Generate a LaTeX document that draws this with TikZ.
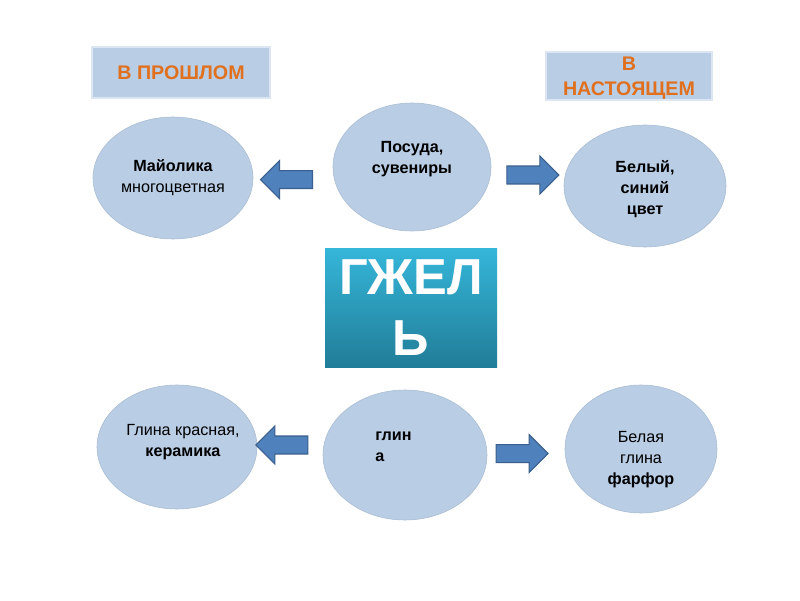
\documentclass[tikz,border=0pt]{standalone}
\usepackage{fontspec}
\setmainfont{Liberation Sans}
\usetikzlibrary{shapes.geometric,shapes.arrows,positioning}
\definecolor{pale}{HTML}{B9CDE5}
\definecolor{paleedge}{HTML}{DCE6F2}
\definecolor{ovaledge}{HTML}{A9BCD3}
\definecolor{orng}{HTML}{E0701E}
\definecolor{arrfill}{HTML}{4F81BD}
\definecolor{arredge}{HTML}{3A5F8C}
\definecolor{tealtop}{HTML}{35B6D9}
\definecolor{tealbot}{HTML}{217D98}
\tikzset{
  tag/.style={rectangle,fill=pale,draw=paleedge,line width=1.2pt,align=center,text=orng,font=\fontsize{14}{18}\selectfont\bfseries,inner sep=0pt},
  oval/.style={ellipse,fill=pale,draw=ovaledge,line width=0.4pt,inner sep=0pt},
  txt/.style={align=center,font=\fontsize{11.5}{15}\selectfont,inner sep=0pt},
  blk/.style={single arrow,fill=arrfill,draw=arredge,line width=0.8pt,inner xsep=0pt,inner ysep=0.21cm,minimum width=0.87cm,minimum height=1.3cm},
  gzhelbox/.style={rectangle,top color=tealtop,bottom color=tealbot,text=white,align=center,font=\fontsize{36}{43}\selectfont\bfseries,inner sep=0pt}
}

\begin{document}
\begin{tikzpicture}
\path[fill=white] (0,0) rectangle (20,15);
\useasboundingbox (0,0) rectangle (20,15);
% headings
\node[tag,minimum width=4.45cm,minimum height=1.275cm] (past) at (4.525,13.19) {В ПРОШЛОМ};
\node[tag,minimum width=4.15cm,minimum height=1.2cm] (now) at (15.725,13.1) {};
\node[tag,fill=none,draw=none] (nowTxt) at ([yshift=-0.06cm]now.center) {В\\НАСТОЯЩЕМ};
% top row
\node[oval,minimum width=4cm,minimum height=3.05cm] (maiolika) at (4.325,10.55) {};
\node[oval,minimum width=3.95cm,minimum height=3.2cm] (posuda) at (10.3,10.825) {};
\node[oval,minimum width=4.05cm,minimum height=3.05cm] (bely) at (16.125,10.35) {};
\node[txt] (maiolikaTxt) at (maiolika.center) {\textbf{Майолика}\\многоцветная};
\node[txt,font=\fontsize{11.5}{15}\selectfont\bfseries] (posudaTxt) at ([yshift=0.2cm]posuda.center) {Посуда,\\сувениры};
\node[txt,font=\fontsize{11.5}{15}\selectfont\bfseries] (belyTxt) at ([yshift=-0.075cm]bely.center) {Белый,\\синий\\цвет};
\node[blk,shape border rotate=180] (arrPast) at (7.275,10.51) {};
\node[blk] (arrNow) at (13.21,10.625) {};
% centre
\node[gzhelbox,minimum width=4.3cm,minimum height=2.975cm] (gzhel) at (10.275,7.31) {ГЖЕЛ\\Ь};
% bottom row
\node[oval,minimum width=4cm,minimum height=3.1cm] (glinaRed) at (4.425,3.825) {};
\node[oval,minimum width=4.1cm,minimum height=3.25cm] (glina) at (10.125,3.625) {};
\node[oval,minimum width=3.8cm,minimum height=3.2cm] (belaya) at (16.025,3.775) {};
\node[txt] (glinaRedTxt) at ([xshift=0.15cm,yshift=0.125cm]glinaRed.center) {Глина красная,\\\textbf{керамика}};
\node[txt,align=left,anchor=west,font=\fontsize{11.5}{15}\selectfont\bfseries] (glinaTxt) at ([xshift=-0.75cm,yshift=0.2cm]glina.center) {глин\\а};
\node[txt] (belayaTxt) at ([yshift=-0.275cm]belaya.center) {Белая\\глина\\\textbf{фарфор}};
\node[blk,shape border rotate=180] (arrRed) at (7.16,3.875) {};
\node[blk] (arrWhite) at (12.94,3.66) {};
\end{tikzpicture}
\end{document}
